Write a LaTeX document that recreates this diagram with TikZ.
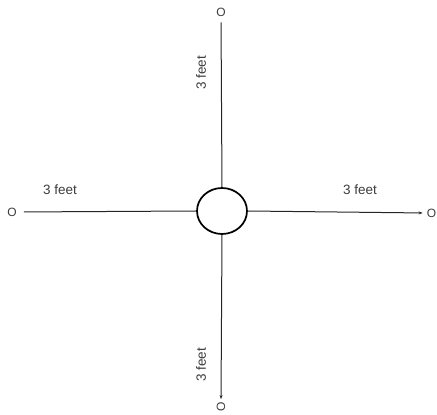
\documentclass[tikz,border=0pt]{standalone}
\usepackage{fontspec}
\setmainfont{Liberation Sans}
\usepackage{xcolor}
\definecolor{lblGray}{HTML}{3C3C3C}
\usetikzlibrary{arrows.meta, positioning, shapes.geometric}

\begin{document}
\begin{tikzpicture}[x=1pt,y=1pt,
  hub/.style={draw, ellipse, line width=1.7pt, minimum width=50pt, minimum height=46pt, inner sep=0pt},
  endpt/.style={font=\fontsize{12}{12}\selectfont, text=lblGray, inner sep=1pt},
  dist/.style={font=\fontsize{13.5}{13.5}\selectfont, text=lblGray},
  spoke/.style={line width=1pt, draw=black!85},
  tip/.style={-{Stealth[length=4pt,width=3pt]}}
]
\useasboundingbox (0,0) rectangle (437,415);

\node[hub] (hub) at (222,204) {};

\node[endpt] (north) at (221,403) {O};
\node[endpt] (west) at (12,203) {O};
\node[endpt] (east) at (431.5,202) {O};
\node[endpt, rotate=90] (south) at (221,8) {O};

\draw[spoke, shorten >=5pt] (hub.north) -- (north.south);
\draw[spoke, shorten >=6pt] (hub.west) -- (west.east);
\draw[spoke, tip, shorten >=3pt] (hub.east) -- (east.west);
\draw[spoke, tip, shorten >=2pt] (hub.south) -- (south.east);

% distance labels
\node[dist] (lblW) at (60,225) {3 feet};
\node[dist] (lblE) at (360,225) {3 feet};
\node[dist, rotate=90] (lblN) at (201,342) {3 feet};
\node[dist, rotate=90] (lblS) at (201,50) {3 feet};
\end{tikzpicture}
\end{document}
